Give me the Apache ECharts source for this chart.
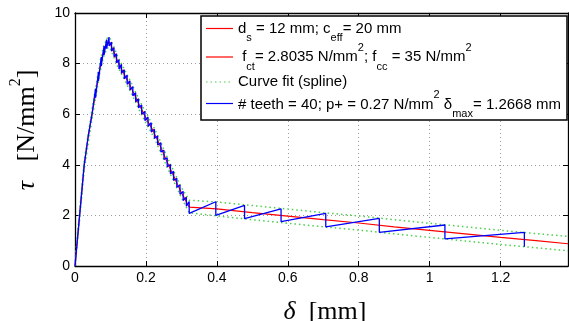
<!DOCTYPE html>
<html>
<head>
<meta charset="utf-8">
<script src="https://cdn.jsdelivr.net/npm/echarts@6/dist/echarts.min.js"></script>
<style>
  html, body { margin: 0; padding: 0; background: #fff; }
  #chart { width: 569px; height: 321px; }
</style>
</head>
<body>
<div id="chart"></div>
<script>
// Bond-slip response: shear stress tau [N/mm^2] against slip delta [mm]

// Smooth response curve (d_s = 12 mm; c_eff = 20 mm)
const responseCurve = [
  [0, 0], [0.013, 2.0], [0.026, 4.0], [0.037, 5.1], [0.048, 6.0], [0.06, 7.0],
  [0.071, 7.9], [0.08, 8.45], [0.09, 8.8], [0.097, 8.85], [0.11, 8.45], [0.123, 8.0],
  [0.14, 7.55], [0.16, 7.0], [0.18, 6.4], [0.2, 5.85], [0.22, 5.35], [0.24, 4.75],
  [0.26, 4.1], [0.28, 3.5], [0.3, 2.9], [0.322, 2.33], [0.4, 2.26], [0.5, 2.11],
  [0.6, 1.97], [0.7, 1.83], [0.8, 1.7], [0.9, 1.55], [1.0, 1.41], [1.1, 1.27],
  [1.2, 1.13], [1.3, 1.0], [1.39, 0.88]
];

// Spline fit envelope, upper and lower branch
const fitUpper = [
  [0, 0.2], [0.013, 2.2], [0.026, 4.2], [0.048, 6.2], [0.06, 7.2], [0.071, 8.1],
  [0.08, 8.65], [0.09, 9.0], [0.097, 9.05], [0.11, 8.65], [0.123, 8.2], [0.14, 7.75],
  [0.16, 7.2], [0.18, 6.6], [0.2, 6.05], [0.22, 5.55], [0.24, 4.95], [0.26, 4.3],
  [0.28, 3.7], [0.3, 3.1], [0.322, 2.6], [0.4, 2.53], [0.5, 2.39], [0.6, 2.25],
  [0.7, 2.11], [0.8, 1.98], [0.9, 1.83], [1.0, 1.69], [1.1, 1.55], [1.2, 1.41],
  [1.3, 1.28], [1.39, 1.17]
];
const fitLower = [
  [0, 0], [0.013, 1.8], [0.026, 3.8], [0.048, 5.8], [0.06, 6.8], [0.071, 7.7],
  [0.08, 8.25], [0.09, 8.6], [0.097, 8.65], [0.11, 8.25], [0.123, 7.8], [0.14, 7.35],
  [0.16, 6.8], [0.18, 6.2], [0.2, 5.65], [0.22, 5.15], [0.24, 4.55], [0.26, 3.9],
  [0.28, 3.3], [0.3, 2.7], [0.322, 2.1], [0.4, 1.98], [0.5, 1.83], [0.6, 1.69],
  [0.7, 1.55], [0.8, 1.42], [0.9, 1.27], [1.0, 1.13], [1.1, 0.99], [1.2, 0.85],
  [1.3, 0.72], [1.39, 0.6]
];

// Toothed response (# teeth = 40), each tooth a vertical drop
const teethCurve = [
  [0, 0], [0.013, 2.0], [0.026, 4.0], [0.037, 5.1], [0.048, 6.0],
  [0.058, 7.01], [0.058, 6.65], [0.066, 7.67], [0.066, 7.31], [0.074, 8.26], [0.074, 7.90],
  [0.082, 8.70], [0.082, 8.34], [0.089, 8.95], [0.089, 8.59], [0.096, 9.05], [0.096, 8.70],
  [0.103, 8.85], [0.103, 8.49], [0.110, 8.63], [0.110, 8.27], [0.117, 8.39], [0.117, 8.03],
  [0.124, 8.15], [0.124, 7.79], [0.131, 7.97], [0.131, 7.61], [0.139, 7.76], [0.139, 7.40],
  [0.147, 7.54], [0.147, 7.18], [0.155, 7.32], [0.155, 6.96], [0.163, 7.09], [0.163, 6.73],
  [0.171, 6.85], [0.171, 6.49], [0.179, 6.61], [0.179, 6.25], [0.188, 6.36], [0.188, 6.00],
  [0.197, 6.11], [0.197, 5.75], [0.206, 5.88], [0.206, 5.52], [0.215, 5.66], [0.215, 5.30],
  [0.224, 5.41], [0.224, 5.05], [0.233, 5.14], [0.233, 4.78], [0.242, 4.87], [0.242, 4.51],
  [0.251, 4.57], [0.251, 4.21], [0.260, 4.28], [0.260, 3.92], [0.269, 4.01], [0.269, 3.65],
  [0.278, 3.74], [0.278, 3.38], [0.287, 3.47], [0.287, 3.11], [0.296, 3.20], [0.296, 2.84],
  [0.305, 2.95], [0.305, 2.59], [0.314, 2.72], [0.314, 2.36],
  [0.322, 2.55], [0.322, 2.08], [0.397, 2.54], [0.397, 2.0], [0.478, 2.40], [0.478, 1.87],
  [0.581, 2.26], [0.581, 1.75], [0.707, 2.08], [0.707, 1.55], [0.858, 1.88], [0.858, 1.33],
  [1.043, 1.62], [1.043, 1.07], [1.267, 1.33], [1.267, 0.76]
];

// Axis ranges and tick steps
const xRange = [0, 1.39];
const xStep = 0.2;
const yRange = [0, 10];
const yStep = 2;

// Legend entries (m = body text, sub/sup = indices)
const legendEntries = [
  { color: '#ff0000', dash: null, text: '{m|d}{sub|s}{m| = 12 mm; c}{sub|eff}{m|= 20 mm}' },
  { color: '#ff0000', dash: null, text: '{m| f}{sub|ct}{m|= 2.8035 N/mm}{sup|2}{m|; f}{sub|cc}{m| = 35 N/mm}{sup|2}' },
  { color: '#4ccf4c', dash: [1.5, 3], text: '{m|Curve fit (spline)}' },
  { color: '#0000ff', dash: null, text: '{m|# teeth = 40; p+ = 0.27 N/mm}{sup|2}{m| \u03B4}{sub|max}{m|= 1.2668 mm}' }
];

const SANS = "'Liberation Sans', Arial, Helvetica, sans-serif";
const SERIF = "'Liberation Serif', 'Times New Roman', serif";

const chart = echarts.init(document.getElementById('chart'), null, { renderer: 'canvas' });

// Envelope drawn as one series, branches separated by a gap
const fitData = fitUpper.concat([[null, null]], fitLower);

const axisLineStyle = { color: '#000', width: 1.3 };
const gridLineStyle = { color: '#9a9a9a', width: 1, type: [1, 3] };

// Legend layout
const legendBox = { x: 201, y: 16, w: 366, h: 104 };
const iconYs = [28.5, 57, 82, 103.5];
const textYs = [28.5, 57, 82, 104.5];
const richStyles = {
  m: { fontSize: 15, fontFamily: SANS, lineHeight: 30, fill: '#000' },
  sub: { fontSize: 11, fontFamily: SANS, verticalAlign: 'bottom', lineHeight: 14, fill: '#000' },
  sup: { fontSize: 11, fontFamily: SANS, verticalAlign: 'top', lineHeight: 20, fill: '#000' }
};
const legendGraphics = [{
  type: 'rect',
  shape: { x: legendBox.x, y: legendBox.y, width: legendBox.w, height: legendBox.h },
  style: { fill: '#fff', stroke: '#000', lineWidth: 1.5 },
  z: 100
}];
legendEntries.forEach(function (e, i) {
  legendGraphics.push({
    type: 'line',
    shape: { x1: 206, y1: iconYs[i], x2: 233, y2: iconYs[i] },
    style: { stroke: e.color, lineWidth: 1.2, lineDash: e.dash },
    z: 101
  });
  legendGraphics.push({
    type: 'text',
    x: 238, y: textYs[i],
    style: {
      text: e.text,
      fontSize: 15, fontFamily: SANS, fill: '#000',
      verticalAlign: 'middle', align: 'left',
      rich: richStyles
    },
    z: 101
  });
});

const option = {
  animation: false,
  backgroundColor: '#fff',
  grid: { left: 75, right: 1, top: 13, bottom: 55, show: false },
  xAxis: [{
    type: 'value', min: xRange[0], max: xRange[1], interval: xStep,
    axisLine: { show: true, lineStyle: axisLineStyle },
    axisTick: { show: true, inside: true, length: 5, lineStyle: { color: '#000' } },
    axisLabel: { fontSize: 14, fontFamily: SANS, color: '#000', margin: 5, showMaxLabel: false },
    splitLine: { show: true, lineStyle: gridLineStyle }
  }, {
    type: 'value', position: 'top', min: xRange[0], max: xRange[1], interval: xStep,
    axisLine: { show: true, onZero: false, lineStyle: axisLineStyle },
    axisTick: { show: true, inside: true, length: 5, lineStyle: { color: '#000' } },
    axisLabel: { show: false }, splitLine: { show: false }
  }],
  yAxis: [{
    type: 'value', min: yRange[0], max: yRange[1], interval: yStep,
    axisLine: { show: true, lineStyle: axisLineStyle },
    axisTick: { show: true, inside: true, length: 5, lineStyle: { color: '#000' } },
    axisLabel: { fontSize: 14, fontFamily: SANS, color: '#000', margin: 5 },
    splitLine: { show: true, lineStyle: gridLineStyle }
  }, {
    type: 'value', position: 'right', min: yRange[0], max: yRange[1], interval: yStep,
    axisLine: { show: true, onZero: false, lineStyle: axisLineStyle },
    axisTick: { show: true, inside: true, length: 5, lineStyle: { color: '#000' } },
    axisLabel: { show: false }, splitLine: { show: false }
  }],
  series: [{
    name: 'response', type: 'line', data: responseCurve, symbol: 'none',
    lineStyle: { color: '#ff0000', width: 1.2 }, z: 2
  }, {
    name: 'fit', type: 'line', data: fitData, symbol: 'none', connectNulls: false,
    lineStyle: { color: '#4ccf4c', width: 1.5, type: [1.5, 3] }, z: 3
  }, {
    name: 'teeth', type: 'line', data: teethCurve, symbol: 'none',
    lineStyle: { color: '#0000ff', width: 1.3 }, z: 4
  }],
  graphic: legendGraphics.concat([{
    type: 'text',
    x: 325, y: 312,
    style: {
      text: '{i|\u03B4}  [mm]',
      fontSize: 26, fontFamily: SERIF, fill: '#000',
      align: 'center', verticalAlign: 'middle',
      rich: { i: { fontSize: 26, fontFamily: SERIF, fontStyle: 'italic', fill: '#000' } }
    }
  }, {
    type: 'text',
    x: 27, y: 130, rotation: Math.PI / 2,
    style: {
      text: '{i|\u03C4}   [N/mm{sup|2}]',
      fontSize: 26, fontFamily: SERIF, fill: '#000', lineHeight: 38,
      align: 'center', verticalAlign: 'middle',
      rich: {
        i: { fontSize: 26, fontFamily: SERIF, fontStyle: 'italic', fill: '#000', lineHeight: 38 },
        sup: { fontSize: 16, fontFamily: SERIF, verticalAlign: 'top', lineHeight: 16, fill: '#000' }
      }
    }
  }])
};

chart.setOption(option);
</script>
</body>
</html>
